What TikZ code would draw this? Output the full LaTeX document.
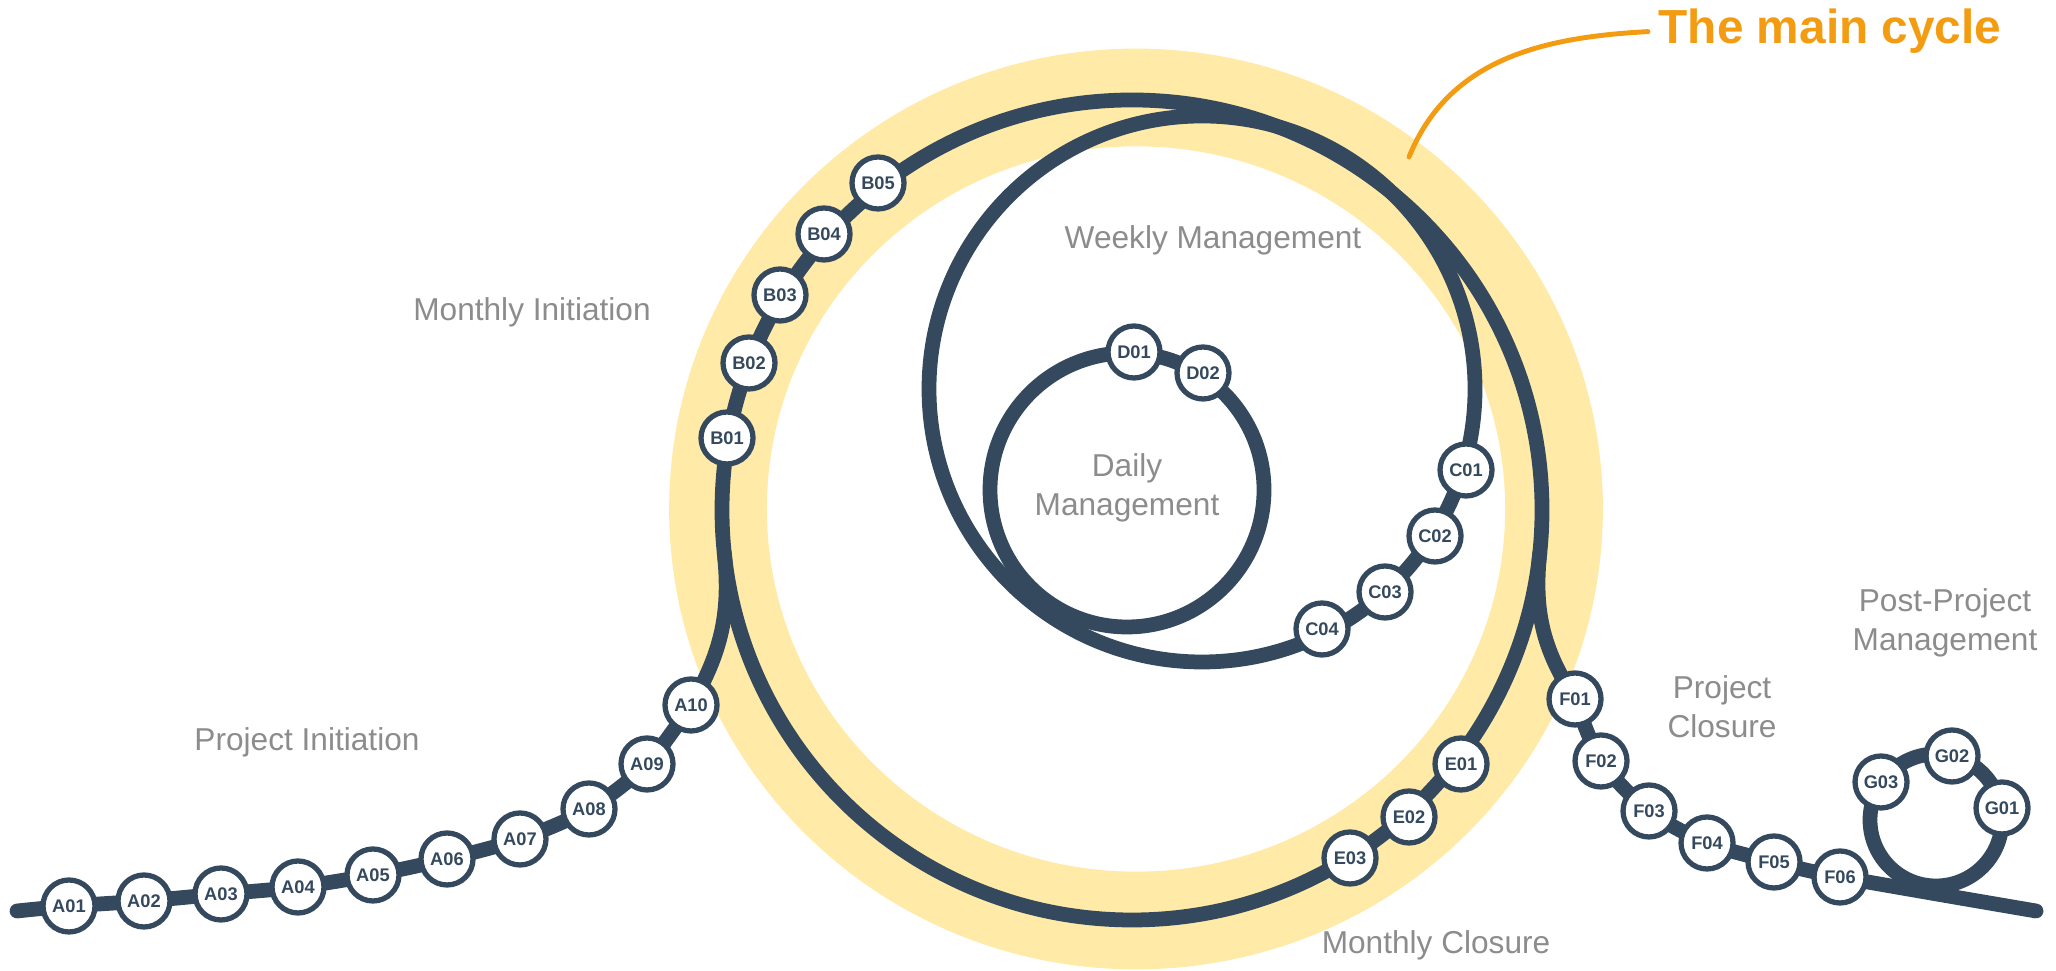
\documentclass[tikz,border=0pt]{standalone}
\usepackage{fontspec}
\setmainfont{Liberation Sans}
\usetikzlibrary{backgrounds}
\definecolor{track}{HTML}{34495E}
\definecolor{sun}{HTML}{FFEAA7}
\definecolor{note}{HTML}{8C8C8C}
\definecolor{accent}{HTML}{F39C12}

\begin{document}
\begin{tikzpicture}[stn/.style={circle, draw=track, line width=1.5pt, fill=white, minimum size=5.2mm, inner sep=0pt, text=track, font=\fontsize{5.2}{6}\selectfont\bfseries},
	lbl/.style={text=note, font=\fontsize{9}{11}\selectfont, align=center},
	rail/.style={draw=track, line width=4.2pt, line cap=round}]
	\useasboundingbox (0,0) rectangle (20.56,9.71);

	% centres of the loops
	\coordinate (mc) at (11.32,4.61);
	\coordinate (wc) at (12.02,5.82);
	\coordinate (dc) at (11.27,4.81);
	\coordinate (gc) at (19.36,1.51);
	\coordinate (start) at (0.17,0.60);
	\coordinate (stop) at (20.36,0.60);
	\coordinate (join) at ([shift={(mc)}]186:4.1);
	\coordinate (leave) at ([shift={(mc)}]-6:4.1);
	\coordinate (ptr) at (14.09,8.14);

	\node[stn] (a01) at (0.69,0.65) {A01};
	\node[stn] (a02) at (1.44,0.70) {A02};
	\node[stn] (a03) at (2.21,0.77) {A03};
	\node[stn] (a04) at (2.98,0.84) {A04};
	\node[stn] (a05) at (3.73,0.96) {A05};
	\node[stn] (a06) at (4.47,1.12) {A06};
	\node[stn] (a07) at (5.20,1.32) {A07};
	\node[stn] (a08) at (5.89,1.62) {A08};
	\node[stn] (a09) at (6.47,2.07) {A09};
	\node[stn] (a10) at (6.91,2.66) {A10};

	\node[stn] (b01) at (7.27,5.33) {B01};
	\node[stn] (b02) at (7.49,6.08) {B02};
	\node[stn] (b03) at (7.80,6.76) {B03};
	\node[stn] (b04) at (8.24,7.37) {B04};
	\node[stn] (b05) at (8.78,7.88) {B05};

	\node[stn] (c01) at (14.66,5.01) {C01};
	\node[stn] (c02) at (14.35,4.35) {C02};
	\node[stn] (c03) at (13.85,3.79) {C03};
	\node[stn] (c04) at (13.22,3.42) {C04};

	\node[stn] (d01) at (11.34,6.19) {D01};
	\node[stn] (d02) at (12.03,5.98) {D02};

	\node[stn] (e01) at (14.61,2.07) {E01};
	\node[stn] (e02) at (14.09,1.54) {E02};
	\node[stn] (e03) at (13.50,1.13) {E03};

	\node[stn] (f01) at (15.75,2.72) {F01};
	\node[stn] (f02) at (16.01,2.10) {F02};
	\node[stn] (f03) at (16.49,1.60) {F03};
	\node[stn] (f04) at (17.07,1.28) {F04};
	\node[stn] (f05) at (17.74,1.09) {F05};
	\node[stn] (f06) at (18.40,0.94) {F06};

	\node[stn] (g01) at (20.02,1.63) {G01};
	\node[stn] (g02) at (19.52,2.15) {G02};
	\node[stn] (g03) at (18.81,1.89) {G03};

	% the track, under the stations
	\begin{scope}[on background layer]
		\draw[sun, line width=27.8pt] (11.36,4.62) ellipse (4.18 and 4.115);
		\draw[rail] (mc) circle (4.1);
		\draw[rail] (wc) circle (2.73);
		\draw[rail] (dc) circle (1.37);
		\draw[rail] (gc) circle (0.66);
		\draw[rail] plot[smooth] coordinates {(start) (a01.center) (a02.center) (a03.center) (a04.center) (a05.center) (a06.center) (a07.center) (a08.center) (a09.center) (a10.center)};
		\draw[rail] (a10.center) to[out=60, in=-84] (join);
		\draw[rail] (leave) to[out=-96, in=123] (f01.center);
		\draw[rail] plot[smooth] coordinates {(f01.center) (f02.center) (f03.center) (f04.center) (f05.center) (f06.center) (stop)};
	\end{scope}

	\node[lbl] (mi) at (5.32,6.59) {Monthly Initiation};
	\node[lbl] (wm) at (12.13,7.31) {Weekly Management};
	\node[lbl] (dm) at (11.27,4.83) {Daily\\Management};
	\node[lbl] (pi) at (3.07,2.29) {Project Initiation};
	\node[lbl] (pc) at (17.22,2.64) {Project\\Closure};
	\node[lbl] (ppm) at (19.45,3.48) {Post-Project\\Management};
	\node[lbl] (mcl) at (14.36,0.26) {Monthly Closure};

	\node[text=accent, font=\fontsize{13.6}{16}\selectfont\bfseries, inner sep=1mm, anchor=base west] (title) at (16.48,9.27) {The main cycle};
	\draw[accent, line width=1.4pt, line cap=round] (title.west) to[out=183, in=68] (ptr);
\end{tikzpicture}
\end{document}
